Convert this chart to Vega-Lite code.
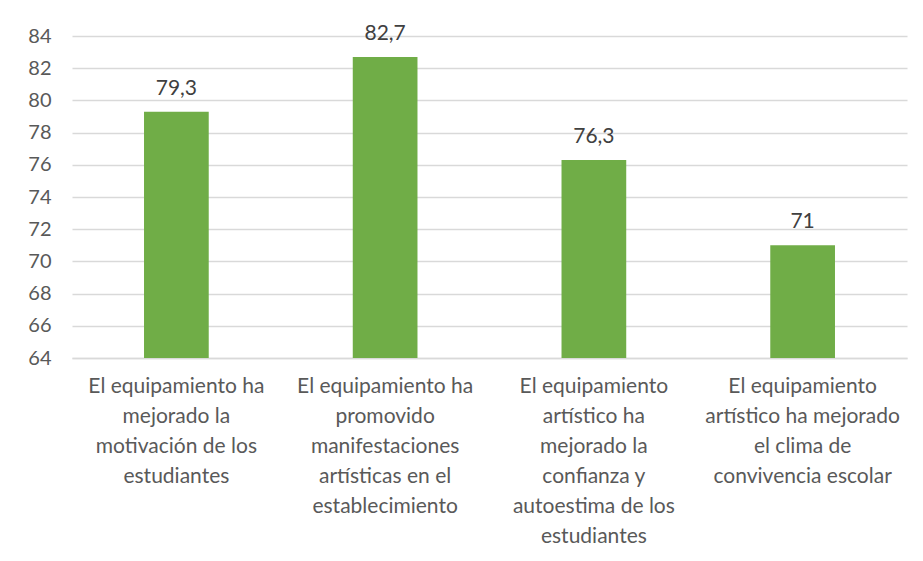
{
  "$schema": "https://vega.github.io/schema/vega-lite/v6.json",
  "width": 835,
  "height": 322,
  "autosize": {"type": "none"},
  "padding": {"left": 72, "top": 36, "right": 16, "bottom": 203},
  "background": "white",
  "config": {
    "locale": {"number": {"decimal": ",", "thousands": ".", "grouping": [3], "currency": ["", " €"]}},
    "view": {"stroke": null},
    "font": "Lato"
  },
  "data": {
    "values": [
      {"categoria": "El  equipamiento ha|mejorado la|motivación de los|estudiantes", "valor": 79.3},
      {"categoria": "El  equipamiento ha|promovido|manifestaciones|artísticas en el|establecimiento", "valor": 82.7},
      {"categoria": "El  equipamiento|artístico  ha|mejorado la|confianza y|autoestima de los|estudiantes", "valor": 76.3},
      {"categoria": "El  equipamiento|artístico ha mejorado|el clima de|convivencia escolar", "valor": 71}
    ]
  },
  "encoding": {
    "x": {
      "field": "categoria",
      "type": "nominal",
      "sort": null,
      "scale": {"paddingInner": 0.69, "paddingOuter": 0.345},
      "axis": {
        "title": null,
        "labelAngle": 0,
        "labelExpr": "split(datum.label, '|')",
        "labelFont": "Lato",
        "labelFontSize": 21,
        "labelLineHeight": 30,
        "labelColor": "#595959",
        "labelPadding": 17,
        "labelBaseline": "top",
        "ticks": false,
        "domain": true,
        "domainColor": "#d9d9d9",
        "domainWidth": 1.5,
        "labelLimit": 0
      }
    },
    "y": {
      "field": "valor",
      "type": "quantitative",
      "scale": {"domain": [64, 84], "zero": false, "nice": false},
      "axis": {
        "title": null,
        "values": [64, 66, 68, 70, 72, 74, 76, 78, 80, 82, 84],
        "domain": false,
        "ticks": false,
        "labelFont": "Lato",
        "labelFontSize": 20,
        "labelColor": "#595959",
        "labelPadding": 21,
        "gridColor": "#d9d9d9",
        "gridWidth": 1.5
      }
    }
  },
  "layer": [
    {"mark": {"type": "bar", "color": "#70ad47", "clip": true}},
    {
      "mark": {"type": "text", "baseline": "bottom", "dy": -13, "fontSize": 21, "color": "#404040", "font": "Lato"},
      "encoding": {"text": {"field": "valor", "type": "quantitative", "format": ".1~f"}}
    }
  ]
}
